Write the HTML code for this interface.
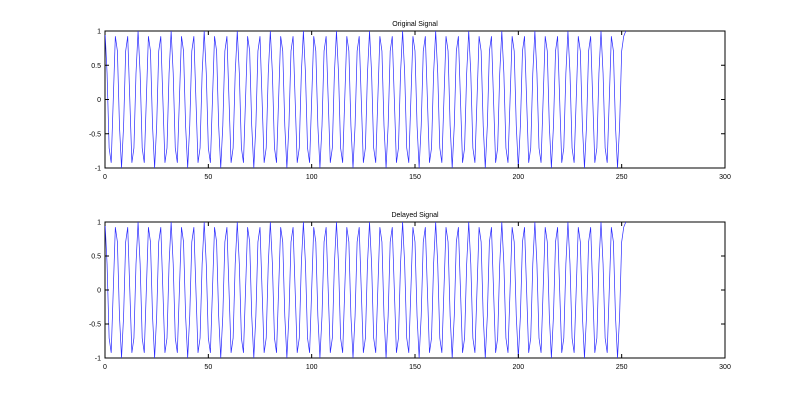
<!DOCTYPE html>
<html><head><meta charset="utf-8"><style>
body{margin:0;background:#fff;}
svg{display:block;font-family:"Liberation Sans",sans-serif;}
</style></head><body>
<svg id="c" width="800" height="403"></svg>
<script>
const period = [1,0.383,-0.707,-0.924,0,0.924,0.707,-0.383,-1,-0.383,0.707,0.924,0,-0.924,-0.707,0.383];
const original = [];
for (let i = 0; i < 252; i++) original.push(period[i % 16]);
original.push(1);
const delayed = original.slice();
const xTicks = [0,50,100,150,200,250,300];
const yTicks = [-1,-0.5,0,0.5,1];
const yTickLabels = ["-1","-0.5","0","0.5","1"];
const titles = ["Original Signal","Delayed Signal"];
const NS = "http://www.w3.org/2000/svg";
const svg = document.getElementById('c');
function mk(t, a, p){const e=document.createElementNS(NS,t);for(const k in a)e.setAttribute(k,a[k]);(p||svg).appendChild(e);return e;}
const panels = [{top:31,bot:168,data:original,name:'original'},{top:222,bot:358,data:delayed,name:'delayed'}];
const L=105,R=725;
panels.forEach((p,pi)=>{
  const g=mk('g',{});
  
  
  const sx=v=>L+(v-0)/(300)*(R-L);
  const sy=v=>p.bot-(v+1)/2*(p.bot-p.top);
  const box=mk('rect',{x:L,y:p.top,width:R-L,height:p.bot-p.top,fill:'#fff',stroke:'#000','stroke-width':1},g);
  
  
  let d='';
  p.data.forEach((v,i)=>{d+=(i?'L':'M')+sx(i).toFixed(2)+','+sy(v).toFixed(2);});
  const line=mk('path',{d:d,fill:'none',stroke:'#2a2aff','stroke-width':0.7},g);
  
  
  xTicks.forEach(t=>{
    const x=sx(t);
    mk('line',{x1:x,x2:x,y1:p.bot,y2:p.bot-4,stroke:'#000'},g);
    mk('line',{x1:x,x2:x,y1:p.top,y2:p.top+4,stroke:'#000'},g);
    const tx=mk('text',{x:x,y:p.bot+11,'font-size':7,'text-anchor':'middle'},g);
    tx.textContent=t;
    
    
  });
  yTicks.forEach((t,i)=>{
    const y=sy(t);
    mk('line',{x1:L,x2:L+4,y1:y,y2:y,stroke:'#000'},g);
    mk('line',{x1:R,x2:R-4,y1:y,y2:y,stroke:'#000'},g);
    const ty=mk('text',{x:L-4,y:y+2.5,'font-size':7,'text-anchor':'end'},g);
    ty.textContent=yTickLabels[i];
    
    
  });
  const ti=mk('text',{x:(L+R)/2,y:p.top-5,'font-size':7,'text-anchor':'middle'},g);
  ti.textContent=titles[pi];
  
  
});
</script>
</body></html>
